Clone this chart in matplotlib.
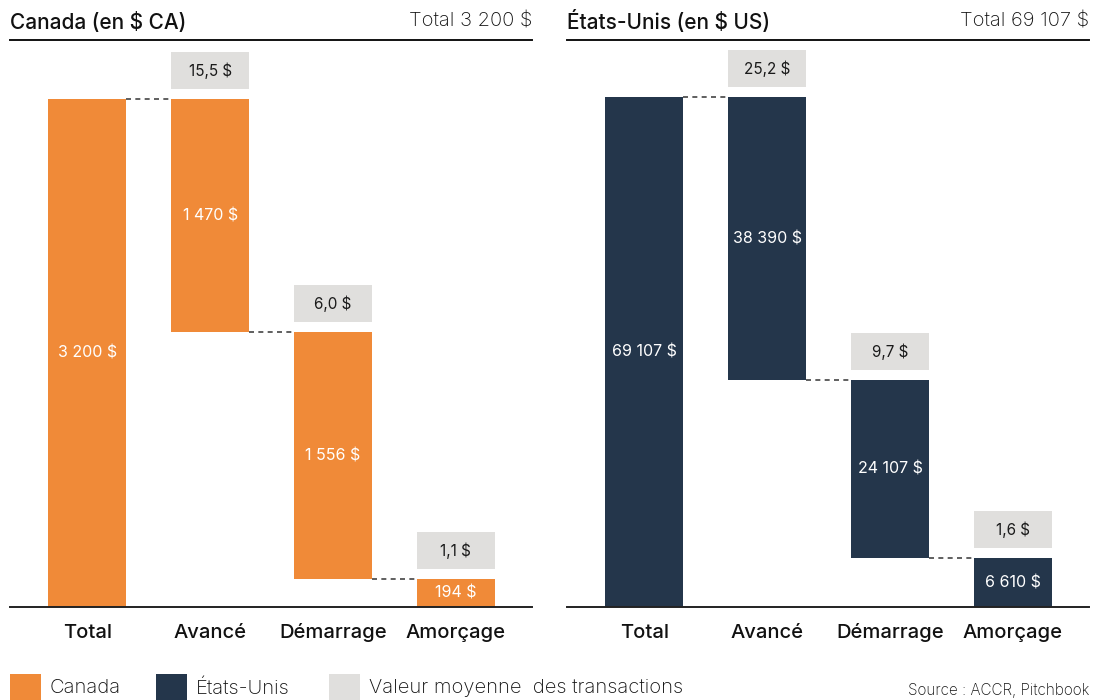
import matplotlib
matplotlib.use("Agg")
import matplotlib.pyplot as plt
from matplotlib.patches import Rectangle

# ---- data ----
categories = ["Total", "Avancé", "Démarrage", "Amorçage"]
ca_total = 3200
ca_stages = [1470, 1556, 194]
ca_avg = ["15,5 $", "6,0 $", "1,1 $"]
us_total = 69107
us_stages = [38390, 24107, 6610]
us_avg = ["25,2 $", "9,7 $", "1,6 $"]

def fmt(v):
    return f"{v:,}".replace(",", " ") + " $"

ORANGE = "#F08A38"
NAVY = "#24364B"
GREY = "#E0DFDD"
FONT = ["Inter", "DejaVu Sans"]
plt.rcParams["font.family"] = FONT

W, H = 1093, 700
fig = plt.figure(figsize=(W / 100, H / 100), dpi=100)

AX_TOP_PX, AX_BOT_PX = 40, 607
ax_h = (AX_BOT_PX - AX_TOP_PX) / H


def panel(x0_px, x1_px, total, stages, avgs, color, ymax, title, total_txt):
    ax = fig.add_axes([x0_px / W, (H - AX_BOT_PX) / H, (x1_px - x0_px) / W, ax_h])
    ax.set_xlim(-0.63, 3.62)
    ax.set_ylim(0, ymax)
    bw = 0.635
    px = ymax / (AX_BOT_PX - AX_TOP_PX)  # data units per pixel

    # total bar
    ax.bar(0, total, width=bw, color=color, zorder=2)
    ax.text(0, total / 2, fmt(total), color="white", ha="center", va="center",
            fontsize=11.5, fontweight="normal")
    level = total
    prev_right = bw / 2
    for i, (v, a) in enumerate(zip(stages, avgs), start=1):
        top = level
        bottom = level - v
        ax.bar(i, v, bottom=bottom, width=bw, color=color, zorder=2)
        ax.plot([prev_right, i - bw / 2], [top, top], color="#444444", lw=1.2,
                ls=(0, (3, 2.6)), zorder=1)
        vis_bot = max(bottom, 0)
        ax.text(i, (vis_bot + top) / 2, fmt(v), color="white", ha="center",
                va="center", fontsize=11.5, fontweight="normal")
        # average value box
        by = top + 10 * px
        bh = 37 * px
        ax.add_patch(Rectangle((i - bw / 2, by), bw, bh, facecolor=GREY,
                               edgecolor="none", zorder=2, clip_on=False))
        ax.text(i, by + bh / 2, a, ha="center", va="center", fontsize=11,
                fontweight="normal", color="#1a1a1a", zorder=3)
        prev_right = i + bw / 2
        level = bottom

    ax.set_xticks(range(len(categories)))
    ax.set_xticklabels(categories, fontsize=14.5, fontweight="medium", color="#111111")
    for lab in ax.get_xticklabels():
        lab.set_verticalalignment("baseline")
    ax.tick_params(axis="x", length=0, pad=22.5)
    ax.set_yticks([])
    for s in ["left", "right"]:
        ax.spines[s].set_visible(False)
    ax.spines["top"].set_linewidth(1.4)
    ax.spines["top"].set_color("#111111")
    ax.spines["bottom"].set_linewidth(1.4)
    ax.spines["bottom"].set_color("#222222")

    fig.text(x0_px / W, 1 - 22 / H, title, ha="left", va="center", fontsize=15,
             fontweight="medium", color="#111111")
    fig.text(x1_px / W, 1 - 22 / H, total_txt, ha="right", va="center",
             fontsize=14.5, fontweight="light", color="#111111")
    return ax


panel(10, 532, ca_total, ca_stages, ca_avg, ORANGE, 3572,
      "Canada (en $ CA)", "Total " + fmt(ca_total))
panel(567, 1089, us_total, us_stages, us_avg, NAVY, 76830,
      "États-Unis (en $ US)", "Total " + fmt(us_total))

# ---- legend ----
legend_items = [("Canada", ORANGE, 10), ("États-Unis", NAVY, 156),
                ("Valeur moyenne  des transactions", GREY, 329)]
for label, col, xp in legend_items:
    fig.patches.append(Rectangle((xp / W, 0), 31 / W, (H - 674) / H,
                                 transform=fig.transFigure, facecolor=col,
                                 edgecolor="none"))
    fig.text((xp + 40) / W, 1 - 688 / H, label, ha="left", va="center",
             fontsize=14.5, fontweight="light", color="#111111")
fig.text(1089 / W, 1 - 691 / H, "Source : ACCR, Pitchbook", ha="right",
         va="center", fontsize=11, fontweight="light", color="#111111")

fig.savefig("out.png", dpi=100)
